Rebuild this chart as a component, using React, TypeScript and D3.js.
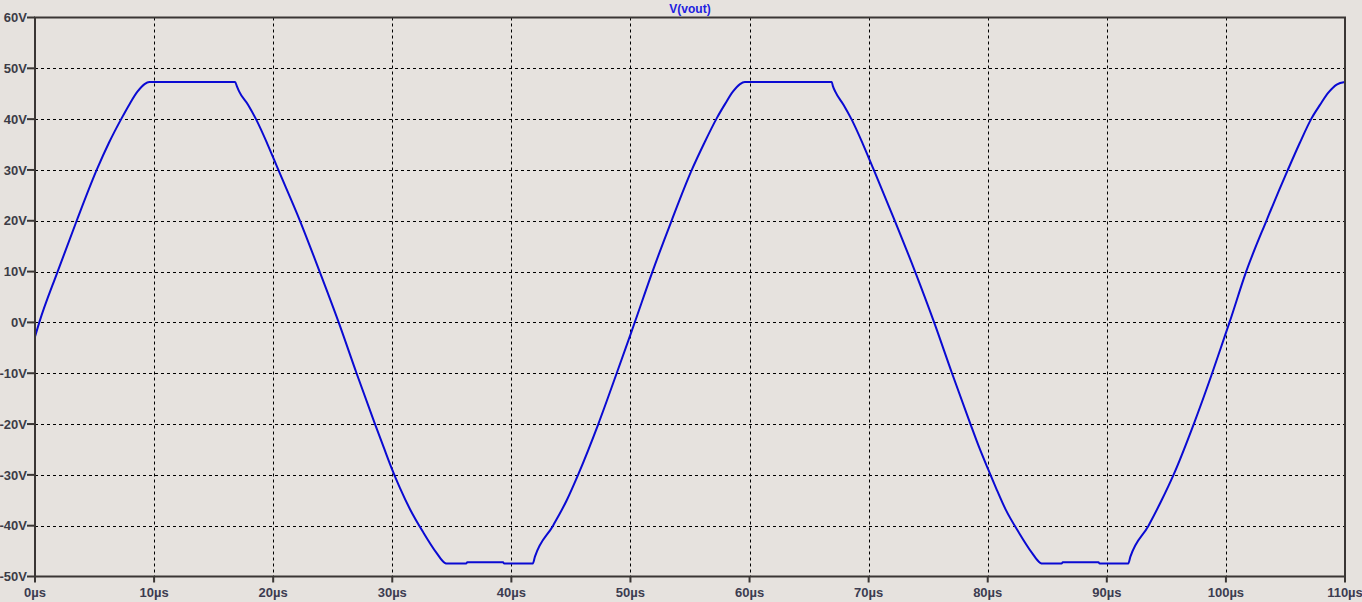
import React, { useEffect, useRef } from "react";
import * as d3 from "d3";

const title = "V(vout)";
const xTicks = [0, 10, 20, 30, 40, 50, 60, 70, 80, 90, 100, 110];
const yTicks = [-50, -40, -30, -20, -10, 0, 10, 20, 30, 40, 50, 60];

const timeUs = [
  0, 0.36, 1.9, 3.5, 5.18, 6.2, 7.28, 7.95, 8.6, 9.2, 9.6, 12, 16.8, 16.95, 17.15, 17.9, 18.6, 19.5, 20.4, 22.25, 23.9,
  25.5, 27.0, 28.55, 29.3, 29.95, 30.65, 31.5, 32.6, 33.7, 34.4, 34.6, 36.2, 36.3, 39.3, 39.4, 41.8, 41.98,
  43.5, 44.65, 45.6, 47.3, 48.8, 50.0, 50.36, 51.85, 53.45, 55.15, 56.2, 57.25, 57.95, 58.6, 59.2, 59.6, 62,
  66.9, 67.0, 67.2, 67.9, 68.6, 69.5, 70.4, 72.2, 73.9, 75.5, 77.0, 78.55, 79.3, 80.0, 80.7, 81.5, 82.6, 83.7, 84.4, 84.6, 86.2,
  86.3, 89.3, 89.4, 91.8, 91.98, 93.5, 94.6, 95.6, 97.3, 98.8, 99.95, 100.3, 101.7, 103.4, 105.2, 106.2, 107.2,
  107.9, 108.6, 109.3, 110,
];
const vout = [
  -2.8, 0, 10, 20, 30, 35.3, 40.2, 43.0, 45.4, 46.9, 47.3, 47.3, 47.3, 46.5, 45.4, 42.8, 39.8, 35.2, 30.2, 20, 10,
  0, -10, -20, -24.7, -28.7, -32.6, -36.8, -41.3, -45.3, -47.3, -47.45, -47.45, -47.2, -47.2, -47.45, -47.45, -46.1,
  -40, -35, -30, -20, -10.3, -2.4, 0, 10, 20, 30, 35.3, 40.2, 43.0, 45.4, 46.9, 47.3, 47.3,
  47.3, 46.5, 45.4, 42.8, 39.8, 35.2, 30.2, 20, 10, 0, -10, -20, -24.7, -28.7, -32.6, -36.8, -41.3, -45.3, -47.3, -47.45, -47.45,
  -47.2, -47.2, -47.45, -47.45, -46.1, -40, -35, -30, -20, -10.3, -2.4, 0, 10, 20, 30, 35.3, 40.2,
  42.8, 45.2, 46.8, 47.3,
];

const W = 1362;
const H = 602;
const M = { left: 35, right: 1345, top: 17.5, bottom: 576.5 };

export default function App() {
  const ref = useRef<SVGSVGElement>(null);

  useEffect(() => {
    const svg = d3.select(ref.current);
    svg.selectAll("*").remove();

    const x = d3.scaleLinear().domain([0, 110]).range([M.left, M.right]);
    const y = d3.scaleLinear().domain([-50, 60]).range([M.bottom, M.top]);

    svg.append("rect").attr("width", W).attr("height", H).attr("fill", "#e6e2de");

    const grid = svg.append("g").attr("stroke", "#000").attr("stroke-width", 1).attr("stroke-dasharray", "3,3");
    xTicks.slice(1, -1).forEach((t) => {
      const px = Math.round(x(t)) + 0.5;
      grid.append("line").attr("x1", px).attr("x2", px).attr("y1", M.top).attr("y2", M.bottom);
    });
    yTicks.slice(1, -1).forEach((v) => {
      const py = Math.round(y(v)) + 0.5;
      grid.append("line").attr("x1", M.left).attr("x2", M.right).attr("y1", py).attr("y2", py);
    });

    const pts: [number, number][] = timeUs.map((t, i) => [t, vout[i]]);
    const line = d3
      .line<[number, number]>()
      .x((d) => x(d[0]))
      .y((d) => y(d[1]))
      .curve(d3.curveMonotoneX);
    svg
      .append("path")
      .attr("d", line(pts) as string)
      .attr("fill", "none")
      .attr("stroke", "#0a0ad2")
      .attr("stroke-width", 2)
      .attr("stroke-linejoin", "round");

    const axisColor = "#3a3634";
    svg
      .append("rect")
      .attr("x", M.left)
      .attr("y", M.top)
      .attr("width", M.right - M.left)
      .attr("height", M.bottom - M.top)
      .attr("fill", "none")
      .attr("stroke", axisColor)
      .attr("stroke-width", 2);

    const font = "'Liberation Sans', Arial, sans-serif";
    const yAx = svg.append("g");
    yTicks.forEach((v) => {
      const py = y(v);
      yAx.append("line").attr("x1", M.left - 8).attr("x2", M.left).attr("y1", py).attr("y2", py)
        .attr("stroke", axisColor).attr("stroke-width", 2);
      yAx.append("text").attr("x", M.left - 8).attr("y", py).attr("dy", "0.36em")
        .attr("text-anchor", "end").attr("font-family", font).attr("font-size", 13)
        .attr("font-weight", "bold").attr("fill", "#3c3c46").text(`${v}V`);
    });
    const xAx = svg.append("g");
    xTicks.forEach((t) => {
      const px = x(t);
      xAx.append("line").attr("x1", px).attr("x2", px).attr("y1", M.bottom).attr("y2", M.bottom + 6)
        .attr("stroke", axisColor).attr("stroke-width", 2);
      xAx.append("text").attr("x", px).attr("y", 597)
        .attr("text-anchor", "middle").attr("font-family", font).attr("font-size", 13)
        .attr("font-weight", "bold").attr("fill", "#3c3c50").text(`${t}µs`);
    });

    svg.append("text").attr("x", (M.left + M.right) / 2).attr("y", 13)
      .attr("text-anchor", "middle").attr("font-family", font).attr("font-size", 12)
      .attr("font-weight", "bold").attr("fill", "#2020e0").text(title);
  }, []);

  return (
    <svg
      ref={ref}
      width={W}
      height={H}
      style={{ position: "absolute", left: 0, top: 0, display: "block" }}
    />
  );
}
